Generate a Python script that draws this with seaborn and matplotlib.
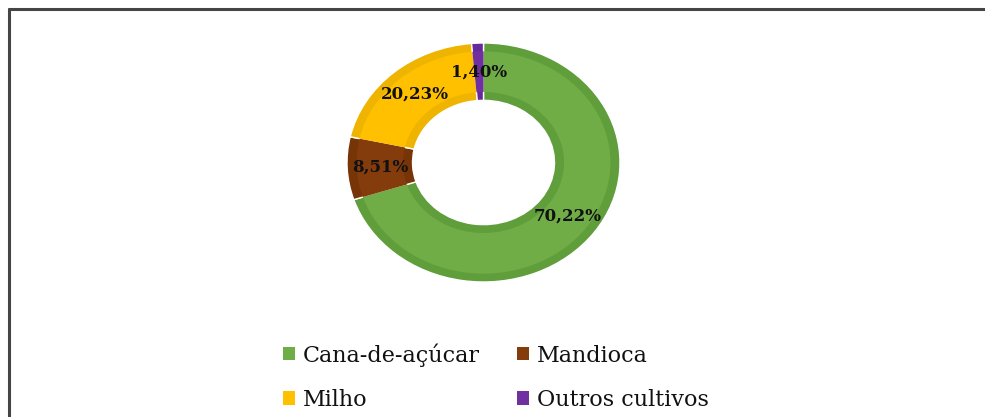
import matplotlib.pyplot as plt
from matplotlib.patches import Patch
from matplotlib.lines import Line2D
import seaborn as sns

culturas = ['Cana-de-açúcar', 'Mandioca', 'Milho', 'Outros cultivos']
percentuais = [70.22, 8.51, 20.23, 1.40]
rotulos = ['70,22%', '8,51%', '20,23%', '1,40%']
cores = ['#70AD47', '#843C0C', '#FFC000', '#7030A0']
bordas = ['#5F9E3B', '#773407', '#EFB400', '#65299A']

sns.set_theme(style='white')
plt.rcParams['font.family'] = ['DejaVu Serif', 'DejaVu Sans']
plt.rcParams['text.color'] = '#111111'

fig = plt.figure(figsize=(9.85, 4.17), dpi=100)
fig.patch.set_facecolor('white')

# moldura (só topo e esquerda aparecem no recorte)
fig.add_artist(Line2D([8.5/985, 8.5/985], [0, 1 - 8.5/417], color='#454545', lw=2.2, transform=fig.transFigure))
fig.add_artist(Line2D([8.5/985, 1], [1 - 8.5/417, 1 - 8.5/417], color='#454545', lw=2.2, transform=fig.transFigure))

ax = fig.add_axes([347/985, (417-282)/417, 273/985, 239/417])
# anel externo mais escuro (efeito de chanfro)
ax.pie(percentuais, colors=bordas, startangle=90, counterclock=False,
       radius=1, wedgeprops=dict(width=0.48, edgecolor='white', linewidth=1))
# faixa interna mais clara
it = iter(rotulos)
wedges, texts, autotexts = ax.pie(
    percentuais, colors=cores, startangle=90, counterclock=False,
    radius=0.93, pctdistance=0.76 / 0.93, autopct=lambda p: next(it),
    wedgeprops=dict(width=0.34, linewidth=0),
    textprops=dict(fontsize=12, fontweight='bold', color='#111111'))
for t in autotexts:
    t.set_zorder(10)
ax.set_aspect('auto')
ax.set_xlim(-1, 1)
ax.set_ylim(-1, 1)
ax.axis('off')

handles = [Patch(facecolor=c, edgecolor='none') for c in cores]
order = [0, 2, 1, 3]
fig.legend([handles[i] for i in order], [culturas[i] for i in order],
           ncol=2, loc='center', bbox_to_anchor=(496/985, 1 - 377/417),
           frameon=False, fontsize=16, handlelength=0.55, handleheight=0.55,
           handletextpad=0.35, columnspacing=1.65, labelspacing=1.0)

fig.savefig('out.png', dpi=100, facecolor='white')
